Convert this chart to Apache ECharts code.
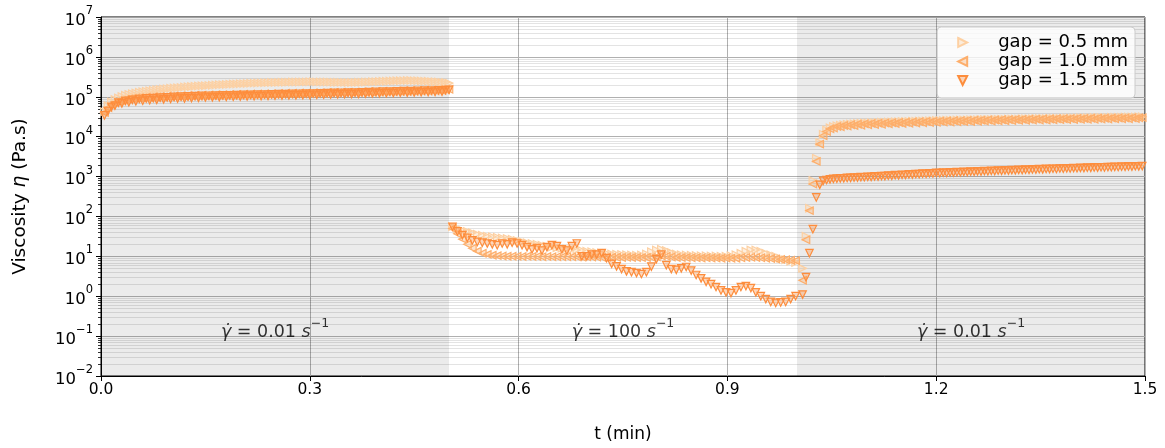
<!DOCTYPE html>
<html>
<head>
<meta charset="utf-8">
<script src="https://cdn.jsdelivr.net/npm/echarts@6/dist/echarts.min.js"></script>
<style>
  html, body { margin: 0; padding: 0; background: #ffffff; }
  #chart { width: 1165px; height: 448px; }
</style>
</head>
<body>
<div id="chart"></div>
<script>
// Viscosity of a sample under a 3-step shear protocol (0.01 / 100 / 0.01 s^-1), three gap sizes.

const FONT = 'DejaVu Sans';

// Axis ticks
const xTicks = [0.0, 0.3, 0.6, 0.9, 1.2, 1.5];
const yDecades = [-2, -1, 0, 1, 2, 3, 4, 5, 6, 7];

// Time segments (min) of the three shear steps; samples are evenly spaced inside each
const segLeft = [0.005, 0.5];
const segMid = [0.505, 0.998];
const segRight = [1.008, 1.496];

// Shaded (low-shear) steps
const shadedSteps = [[0.0, 0.5], [1.0, 1.5]];

// Step annotations: shear rate shown in each step
const stepRates = ['0.01', '100', '0.01'];
const stepCenters = [0.25, 0.75, 1.25];

const seriesNames = ['gap = 0.5 mm', 'gap = 1.0 mm', 'gap = 1.5 mm'];

// ---- gap = 0.5 mm ----
const gap05Left = [
  4.2e4, 6.0e4, 7.4e4, 8.5e4, 9.4e4, 1.02e5, 1.09e5, 1.15e5, 1.2e5, 1.25e5,
  1.3e5, 1.34e5, 1.38e5, 1.42e5, 1.46e5, 1.5e5, 1.53e5, 1.56e5, 1.6e5, 1.63e5,
  1.66e5, 1.69e5, 1.72e5, 1.75e5, 1.78e5, 1.8e5, 1.83e5, 1.86e5, 1.88e5, 1.9e5,
  1.93e5, 1.95e5, 1.97e5, 2.0e5, 2.02e5, 2.04e5, 2.06e5, 2.08e5, 2.1e5, 2.12e5,
  2.14e5, 2.16e5, 2.18e5, 2.2e5, 2.21e5, 2.23e5, 2.25e5, 2.26e5, 2.28e5, 2.29e5,
  2.3e5, 2.31e5, 2.32e5, 2.33e5, 2.34e5, 2.35e5, 2.35e5, 2.36e5, 2.36e5, 2.37e5,
  2.37e5, 2.36e5, 2.36e5, 2.35e5, 2.34e5, 2.33e5, 2.32e5, 2.31e5, 2.3e5, 2.3e5,
  2.29e5, 2.29e5, 2.3e5, 2.31e5, 2.32e5, 2.34e5, 2.36e5, 2.38e5, 2.4e5, 2.42e5,
  2.44e5, 2.46e5, 2.48e5, 2.5e5, 2.52e5, 2.53e5, 2.54e5, 2.55e5, 2.55e5, 2.54e5,
  2.52e5, 2.5e5, 2.47e5, 2.44e5, 2.4e5, 2.37e5, 2.34e5, 2.3e5, 2.27e5, 2.2e5
];
const gap05Mid = [
  55, 50, 45, 42, 39, 36, 34, 32, 31, 30,
  29, 28, 27, 25, 23.5, 22, 21, 20, 19, 18,
  17, 16.5, 16, 15.5, 15, 14.5, 14, 13.5, 13, 12.5,
  12, 11.8, 11.5, 11.3, 11.1, 11, 10.8, 10.6, 10.8, 11.5,
  13, 14.5, 15, 14, 12.5, 11.5, 11, 10.8, 10.6, 10.5,
  10.4, 10.3, 10.2, 10.2, 10.1, 10.1, 10.3, 11, 12, 13.5,
  14.5, 14.5, 13.5, 12, 11, 10, 9, 8.2, 7.5, 7
];
const gap05Right = [
  5, 32, 160, 800, 2900, 7200, 11500, 14800, 16800, 18000,
  18900, 19500, 20000, 20400, 20800, 21100, 21400, 21600, 21900, 22100,
  22300, 22500, 22700, 22900, 23100, 23300, 23400, 23600, 23800, 23900,
  24100, 24200, 24400, 24500, 24700, 24800, 24900, 25100, 25200, 25300,
  25500, 25600, 25700, 25800, 25900, 26100, 26200, 26300, 26400, 26500,
  26600, 26700, 26800, 26900, 27000, 27100, 27200, 27300, 27400, 27500,
  27600, 27700, 27800, 27900, 28000, 28100, 28200, 28300, 28400, 28500,
  28600, 28700, 28800, 28900, 29000, 29100, 29200, 29300, 29400, 29500,
  29600, 29700, 29800, 29900, 30000, 30100, 30200, 30300, 30400, 30500,
  30600, 30700, 30800, 30900, 31000, 31100, 31200, 31300, 31400, 31500
];

// ---- gap = 1.0 mm ----
const gap10Left = [
  4.0e4, 5.3e4, 6.3e4, 7.1e4, 7.6e4, 8.1e4, 8.5e4, 8.8e4, 9.1e4, 9.3e4,
  9.5e4, 9.3e4, 9.8e4, 9.5e4, 1.0e5, 9.7e4, 1.02e5, 9.8e4, 1.03e5, 1.0e5,
  1.05e5, 1.01e5, 1.06e5, 1.02e5, 1.08e5, 1.04e5, 1.09e5, 1.05e5, 1.1e5, 1.06e5,
  1.11e5, 1.07e5, 1.12e5, 1.08e5, 1.13e5, 1.09e5, 1.14e5, 1.1e5, 1.15e5, 1.11e5,
  1.16e5, 1.12e5, 1.17e5, 1.13e5, 1.18e5, 1.14e5, 1.19e5, 1.15e5, 1.2e5, 1.16e5,
  1.21e5, 1.17e5, 1.22e5, 1.18e5, 1.23e5, 1.19e5, 1.24e5, 1.2e5, 1.25e5, 1.21e5,
  1.26e5, 1.22e5, 1.27e5, 1.23e5, 1.28e5, 1.24e5, 1.29e5, 1.25e5, 1.3e5, 1.26e5,
  1.31e5, 1.27e5, 1.32e5, 1.28e5, 1.33e5, 1.29e5, 1.35e5, 1.3e5, 1.36e5, 1.32e5,
  1.37e5, 1.33e5, 1.38e5, 1.34e5, 1.4e5, 1.35e5, 1.41e5, 1.36e5, 1.42e5, 1.38e5,
  1.44e5, 1.39e5, 1.45e5, 1.4e5, 1.46e5, 1.42e5, 1.48e5, 1.43e5, 1.5e5, 1.55e5
];
const gap10Mid = [
  50, 37, 27, 20, 16, 13.5, 12, 11.2, 10.7, 10.4,
  10.2, 10.1, 10.0, 10.0, 9.9, 10.0, 9.9, 9.9, 9.8, 9.9,
  9.8, 9.8, 9.7, 9.8, 9.7, 9.7, 9.6, 9.7, 9.6, 9.6,
  9.5, 9.6, 9.5, 9.5, 9.4, 9.5, 9.4, 9.4, 9.3, 9.4,
  9.5, 9.8, 10.2, 10.0, 9.6, 9.4, 9.3, 9.3, 9.2, 9.2,
  9.1, 9.2, 9.1, 9.1, 9.0, 9.1, 9.0, 9.0, 9.2, 9.4,
  9.5, 9.4, 9.2, 9.0, 8.8, 8.6, 8.4, 8.2, 8.0, 7.8
];
const gap10Right = [
  2.5, 26, 140, 650, 2400, 6500, 10500, 13500, 15800, 16500,
  18000, 17600, 19000, 18400, 19800, 18900, 20400, 19300, 20900, 19800,
  21300, 20200, 21700, 20500, 22000, 20900, 22400, 21200, 22700, 21500,
  23000, 21800, 23300, 22100, 23600, 22400, 23900, 22700, 24200, 22900,
  24500, 23200, 24700, 23400, 25000, 23700, 25200, 23900, 25500, 24100,
  25700, 24400, 25900, 24600, 26100, 24800, 26300, 25000, 26500, 25200,
  26700, 25400, 26900, 25600, 27100, 25800, 27300, 26000, 27500, 26200,
  27700, 26300, 27800, 26500, 28000, 26700, 28200, 26800, 28300, 27000,
  28500, 27100, 28600, 27300, 28800, 27400, 28900, 27600, 29100, 27700,
  29200, 27900, 29400, 28000, 29500, 28200, 29700, 28300, 29800, 30000
];

// ---- gap = 1.5 mm ----
const gap15Left = [
  3.4e4, 4.4e4, 5.6e4, 6.0e4, 7.1e4, 6.8e4, 7.9e4, 7.3e4, 8.4e4, 7.7e4,
  8.8e4, 8.0e4, 9.1e4, 8.2e4, 9.3e4, 8.4e4, 9.5e4, 8.6e4, 9.7e4, 8.8e4,
  9.9e4, 9.0e4, 1.01e5, 9.1e4, 1.02e5, 9.3e4, 1.04e5, 9.4e4, 1.05e5, 9.6e4,
  1.06e5, 9.7e4, 1.07e5, 9.8e4, 1.08e5, 9.9e4, 1.09e5, 1.0e5, 1.1e5, 1.01e5,
  1.11e5, 1.02e5, 1.12e5, 1.03e5, 1.13e5, 1.04e5, 1.14e5, 1.05e5, 1.15e5, 1.06e5,
  1.16e5, 1.07e5, 1.17e5, 1.08e5, 1.18e5, 1.09e5, 1.19e5, 1.1e5, 1.2e5, 1.11e5,
  1.21e5, 1.12e5, 1.22e5, 1.13e5, 1.23e5, 1.14e5, 1.25e5, 1.15e5, 1.26e5, 1.16e5,
  1.27e5, 1.17e5, 1.28e5, 1.18e5, 1.3e5, 1.2e5, 1.31e5, 1.21e5, 1.32e5, 1.22e5,
  1.34e5, 1.23e5, 1.35e5, 1.24e5, 1.36e5, 1.26e5, 1.38e5, 1.27e5, 1.39e5, 1.28e5,
  1.4e5, 1.3e5, 1.42e5, 1.31e5, 1.43e5, 1.32e5, 1.45e5, 1.34e5, 1.47e5, 1.5e5
];
const gap15Mid = [
  55, 42, 34, 29, 25, 23, 22, 21, 20, 19,
  21, 20, 22, 21, 19, 17, 15, 16, 14, 17,
  19, 18, 15, 14, 18, 21, 10, 10, 11, 11,
  12, 9, 6.5, 5.6, 4.8, 4.2, 4.0, 3.8, 3.6, 4.0,
  5.5, 8.5, 11, 6, 4.8, 4.6, 5.0, 5.4, 4.4, 3.4,
  2.8, 2.3, 2.0, 1.7, 1.4, 1.25, 1.2, 1.4, 1.7, 1.8,
  1.6, 1.25, 1.0, 0.85, 0.72, 0.68, 0.7, 0.72, 0.85, 1.0
];
const gap15Right = [
  1.1, 3, 12, 48, 300, 620, 780, 820, 850, 870,
  885, 900, 905, 925, 925, 945, 945, 965, 960, 985,
  980, 1005, 1000, 1030, 1020, 1055, 1045, 1080, 1070, 1105,
  1095, 1130, 1120, 1155, 1145, 1180, 1170, 1205, 1195, 1230,
  1215, 1250, 1235, 1270, 1255, 1290, 1275, 1310, 1295, 1330,
  1315, 1350, 1335, 1370, 1355, 1390, 1375, 1410, 1395, 1430,
  1415, 1450, 1435, 1470, 1455, 1490, 1475, 1510, 1495, 1530,
  1515, 1550, 1535, 1570, 1555, 1590, 1575, 1610, 1595, 1630,
  1615, 1650, 1635, 1670, 1655, 1690, 1675, 1710, 1695, 1730,
  1715, 1750, 1735, 1770, 1755, 1790, 1775, 1810, 1800, 1830
];

const seriesColors = ['#fdd0a2', '#fdae6b', '#fd8d3c'];
const seriesFills = ['rgba(253,208,162,0.35)', 'rgba(253,174,107,0.35)', 'rgba(253,141,60,0.35)'];
const seriesRotate = [-90, 90, 180];   // triangle right, left, down
const legendIcons = [
  'path://M0,0L10,5L0,10Z',    // pointing right
  'path://M10,0L0,5L10,10Z',   // pointing left
  'path://M0,0L10,0L5,10Z'     // pointing down
];

// Pair each sample with its time inside a step segment
function segmentPoints(seg, values) {
  const n = values.length;
  const step = (seg[1] - seg[0]) / (n - 1);
  return values.map((v, i) => [seg[0] + i * step, v]);
}

function allPoints(left, mid, right) {
  return segmentPoints(segLeft, left)
    .concat(segmentPoints(segMid, mid))
    .concat(segmentPoints(segRight, right));
}

const seriesData = [
  allPoints(gap05Left, gap05Mid, gap05Right),
  allPoints(gap10Left, gap10Mid, gap10Right),
  allPoints(gap15Left, gap15Mid, gap15Right)
];

// Minor log ticks 2..9 in each decade
const minorValues = [];
for (let e = -2; e < 7; e++) {
  for (let m = 2; m <= 9; m++) minorValues.push([0, m * Math.pow(10, e)]);
}

const supMinus = (e) => (e < 0 ? '\u2212' + (-e) : String(e));

const chart = echarts.init(document.getElementById('chart'), null, { renderer: 'canvas' });

const scatterSeries = seriesNames.map((name, k) => ({
  name: name,
  type: 'scatter',
  z: 4 + k,
  symbol: 'triangle',
  symbolSize: 7.5,
  symbolRotate: seriesRotate[k],
  silent: true,
  itemStyle: {
    color: seriesFills[k],
    borderColor: seriesColors[k],
    borderWidth: 1.2,
    opacity: 1
  },
  data: seriesData[k]
}));

const option = {
  animation: false,
  backgroundColor: '#ffffff',
  textStyle: { fontFamily: FONT },
  grid: {
    left: 101, right: 20, top: 17, bottom: 67,
    show: true, borderColor: '#000000', borderWidth: 1, backgroundColor: 'transparent',
    containLabel: false
  },
  legend: {
    orient: 'vertical',
    top: 27,
    right: 30,
    itemWidth: 9,
    itemHeight: 9,
    itemGap: 0,
    symbolRotate: 0,
    backgroundColor: 'rgba(255,255,255,0.8)',
    borderColor: '#cccccc',
    borderWidth: 1,
    borderRadius: 4,
    padding: [6, 7, 8, 20],
    textStyle: { fontFamily: FONT, fontSize: 18, lineHeight: 19, color: '#000000', padding: [0, 0, 0, 26] },
    data: seriesNames.map((n, k) => ({ name: n, icon: legendIcons[k] }))
  },
  xAxis: {
    type: 'value',
    min: 0, max: 1.5, interval: 0.3,
    name: 't (min)',
    nameLocation: 'middle',
    nameGap: 50,
    nameTextStyle: { fontFamily: FONT, fontSize: 17, color: '#000000' },
    axisLine: { show: true, lineStyle: { color: '#000000', width: 1 } },
    axisTick: { show: true, inside: false, length: 5, lineStyle: { color: '#000000', width: 1 } },
    axisLabel: {
      fontFamily: FONT, fontSize: 15.5, color: '#000000', margin: 6,
      formatter: (v) => v.toFixed(1)
    },
    splitLine: { show: true, lineStyle: { color: '#b0b0b0', width: 1 } }
  },
  yAxis: {
    type: 'log',
    logBase: 10,
    min: 0.01, max: 1e7,
    splitNumber: 9,
    name: 'Viscosity {i|\u03b7} (Pa.s)',
    nameLocation: 'middle',
    nameGap: 71,
    nameTextStyle: {
      fontFamily: FONT, fontSize: 18.5, color: '#000000',
      rich: { i: { fontFamily: FONT, fontSize: 18.5, fontStyle: 'italic', color: '#000000' } }
    },
    axisLine: { show: true, lineStyle: { color: '#000000', width: 1 } },
    axisTick: { show: true, inside: false, length: 5, lineStyle: { color: '#000000', width: 1 } },
    axisLabel: {
      fontFamily: FONT, fontSize: 16.5, color: '#000000', margin: 8,
      lineHeight: 24,
      formatter: (v) => {
        const e = Math.round(Math.log10(v));
        return '{b|10}{s|' + supMinus(e) + '}';
      },
      rich: {
        b: { fontFamily: FONT, fontSize: 16.5, color: '#000000', lineHeight: 24, verticalAlign: 'bottom' },
        s: { fontFamily: FONT, fontSize: 11.5, color: '#000000', lineHeight: 13, verticalAlign: 'top' }
      }
    },
    splitLine: { show: true, lineStyle: { color: '#b0b0b0', width: 1 } }
  },
  series: [
    // gray bands for the low-shear steps
    {
      type: 'custom',
      z: 1,
      silent: true,
      data: shadedSteps,
      encode: { x: [0, 1] },
      renderItem: (params, api) => {
        const cs = params.coordSys;
        const x0 = api.coord([api.value(0), 1])[0];
        const x1 = api.coord([api.value(1), 1])[0];
        return {
          type: 'rect',
          shape: { x: x0, y: cs.y, width: x1 - x0, height: cs.height },
          style: { fill: 'rgba(0,0,0,0.08)' }
        };
      }
    },
    // minor log grid lines and minor ticks
    {
      type: 'custom',
      z: 2,
      silent: true,
      data: minorValues,
      encode: { x: 0, y: 1 },
      clip: false,
      renderItem: (params, api) => {
        const cs = params.coordSys;
        const y = Math.round(api.coord([0, api.value(1)])[1]) + 0.5;
        return {
          type: 'group',
          children: [
            { type: 'line', shape: { x1: cs.x, y1: y, x2: cs.x + cs.width, y2: y },
              style: { stroke: 'rgba(0,0,0,0.11)', lineWidth: 1 } },
            { type: 'line', shape: { x1: cs.x - 3, y1: y, x2: cs.x, y2: y },
              style: { stroke: '#000000', lineWidth: 0.8 } }
          ]
        };
      }
    }
  ].concat(scatterSeries).concat([
    // shear-rate annotations
    {
      type: 'scatter',
      z: 10,
      silent: true,
      symbolSize: 0,
      data: stepCenters.map((t, i) => [t, 0.15, stepRates[i]]),
      label: {
        show: true,
        position: 'inside',
        fontFamily: FONT, fontSize: 17.5, color: '#000000', lineHeight: 24,
        textBorderWidth: 0,
        formatter: (p) => '{g|\u03b3\u0307}{n| = ' + p.value[2] + ' }{g|s}{s|\u22121}',
        rich: {
          g: { fontFamily: FONT, fontSize: 17.5, fontStyle: 'italic', color: '#000000', lineHeight: 24, verticalAlign: 'bottom' },
          n: { fontFamily: FONT, fontSize: 17.5, color: '#000000', lineHeight: 24, verticalAlign: 'bottom' },
          s: { fontFamily: FONT, fontSize: 12.5, color: '#000000', lineHeight: 13, verticalAlign: 'top' }
        }
      }
    }
  ])
};

chart.setOption(option);
</script>
</body>
</html>
